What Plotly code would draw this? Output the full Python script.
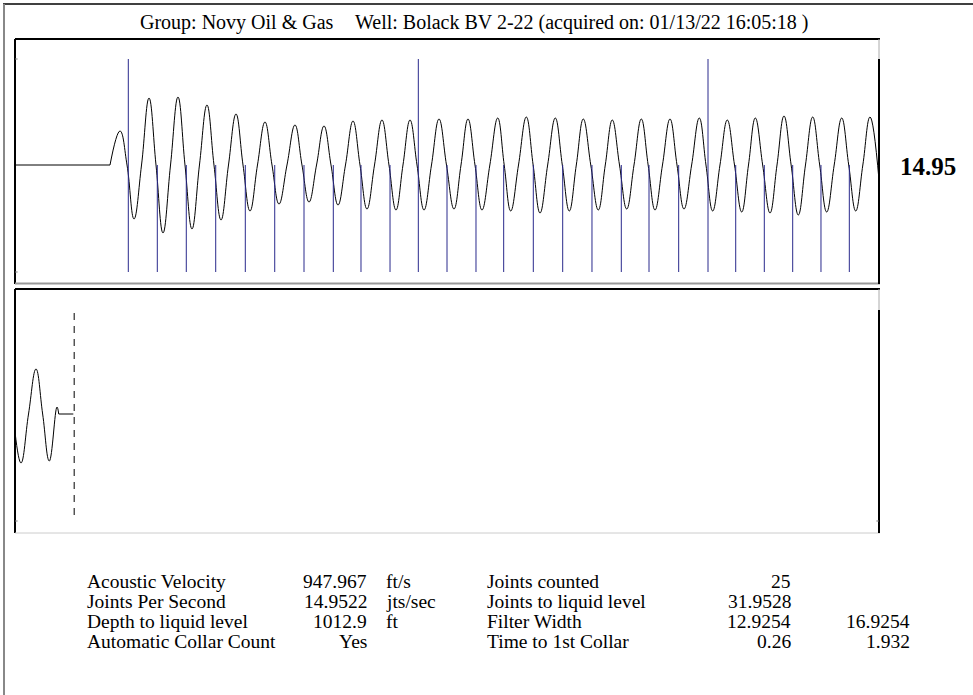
import plotly.graph_objects as go

# ---------------- data ----------------
title_group = "Group: Novy Oil & Gas"
title_well = "Well: Bolack BV 2-22 (acquired on: 01/13/22 16:05:18 )"

# upper panel: quiet lead-in before the shot (time s, amplitude)
lead_t = [0.0, 0.2199]
lead_a = [0, 0]

# upper panel: filtered acoustic signal, extrema and baseline crossings
wave_t = [0.2199, 0.2431, 0.2593, 0.2755, 0.2929, 0.3102, 0.3264, 0.3426, 0.3600, 0.3773,
          0.3935, 0.4097, 0.4270, 0.4444, 0.4606, 0.4769, 0.4942, 0.5116, 0.5278, 0.5440,
          0.5613, 0.5787, 0.5949, 0.6111, 0.6296, 0.6481, 0.6643, 0.6806, 0.6980, 0.7153,
          0.7315, 0.7477, 0.7650, 0.7824, 0.7986, 0.8148, 0.8322, 0.8495, 0.8657, 0.8819,
          0.8981, 0.9144, 0.9306, 0.9468, 0.9641, 0.9815, 0.9988, 1.0162, 1.0324, 1.0486,
          1.0648, 1.0810, 1.0992, 1.1174, 1.1324, 1.1475, 1.1655, 1.1836, 1.1994, 1.2153,
          1.2330, 1.2507, 1.2669, 1.2831, 1.2993, 1.3155, 1.3328, 1.3502, 1.3664, 1.3826,
          1.3993, 1.4160, 1.4329, 1.4498, 1.4656, 1.4815, 1.4988, 1.5162, 1.5324, 1.5486,
          1.5663, 1.5840, 1.5995, 1.6150, 1.6319, 1.6488, 1.6655, 1.6822, 1.6979, 1.7137,
          1.7307, 1.7477, 1.7639, 1.7801, 1.7966, 1.8132, 1.8298, 1.8465, 1.8627, 1.8789,
          1.8963, 1.9137, 1.9299, 1.9461, 1.9626, 1.9792, 2.0000]
wave_a = [0, 34, 0, -54, 0, 67, 0, -68, 0, 68,
          0, -64, 0, 60, 0, -55, 0, 51, 0, -46,
          0, 43, 0, -39, 0, 40, 0, -37, 0, 39,
          0, -40, 0, 44, 0, -44, 0, 45, 0, -45,
          0, 45, 0, -45, 0, 46, 0, -44, 0, 46,
          0, -45, 0, 47, 0, -46, 0, 48, 0, -48,
          0, 47, 0, -46, 0, 46, 0, -45, 0, 45,
          0, -44, 0, 46, 0, -45, 0, 46, 0, -44,
          0, 47, 0, -46, 0, 45, 0, -47, 0, 47,
          0, -48, 0, 49, 0, -50, 0, 48, 0, -47,
          0, 47, 0, -46, 0, 48, -15]

# collar markers (time s); every 10th joint is drawn tall
collar_t = [0.2623, 0.3294, 0.3965, 0.4646, 0.5331, 0.6012, 0.6690, 0.7368, 0.8009, 0.8681,
            0.9336, 1.0000, 1.0671, 1.1312, 1.1998, 1.2678, 1.3356, 1.4035, 1.4676, 1.5363,
            1.6042, 1.6683, 1.7345, 1.8002, 1.8657, 1.9313]
collar_tall = [i % 10 == 0 for i in range(len(collar_t))]
marker_top_tall = 106
marker_top_short = 0
marker_bottom = -107

# lower panel: signal continuation up to liquid level
lower_t = [2.0, 2.0139, 2.0313, 2.0486, 2.0640, 2.0794, 2.0972, 2.1012]
lower_a = [-18, -49, 0, 45, 0, -47, 7, 0]
lower_flat_t = [2.1012, 2.1350]
lower_flat_a = [0, 0]
liquid_level_t = 2.137
liquid_top, liquid_bottom = 101, -107

joints_per_second = 14.9522

labels1 = ["Acoustic Velocity", "Joints Per Second", "Depth to liquid level", "Automatic Collar Count"]
values1 = ["947.967", "14.9522", "1012.9", "Yes"]
units1 = ["ft/s", "jts/sec", "ft", ""]
labels2 = ["Joints counted", "Joints to liquid level", "Filter Width", "Time to 1st Collar"]
values2 = ["25", "31.9528", "12.9254", "0.26"]
values3 = ["", "", "16.9254", "1.932"]

# ---------------- layout helpers ----------------
W, H = 973, 695
def fx(p):
    return p / W
def fy(p):
    return 1 - p / H

FONT = "Liberation Serif, Times New Roman, serif"
BLUE = "#2a2a8c"

fig = go.Figure()

def line_trace(x, y, xa, ya, color="black", shape="linear", dash="solid", smoothing=1.2):
    ln = dict(color=color, width=1, shape=shape, dash=dash)
    if shape == "spline":
        ln["smoothing"] = smoothing
    fig.add_trace(go.Scatter(x=x, y=y, mode="lines", line=ln,
                             xaxis=xa, yaxis=ya, hoverinfo="skip"))

line_trace(lead_t, lead_a, "x", "y")
line_trace(wave_t, wave_a, "x", "y", shape="spline")

mx, my = [], []
for t, tall in zip(collar_t, collar_tall):
    mx += [t, t, None]
    my += [marker_top_tall if tall else marker_top_short, marker_bottom, None]
line_trace(mx, my, "x", "y", color=BLUE)

line_trace(lower_t, lower_a, "x2", "y2", shape="spline")
line_trace(lower_flat_t, lower_flat_a, "x2", "y2")
line_trace([liquid_level_t, liquid_level_t], [liquid_top, liquid_bottom], "x2", "y2",
           dash="7px,6px")

ax = dict(visible=False, showgrid=False, zeroline=False, fixedrange=True)
fig.update_layout(
    width=W, height=H, margin=dict(l=0, r=0, t=0, b=0),
    paper_bgcolor="white", plot_bgcolor="white", showlegend=False,
    xaxis=dict(ax, domain=[fx(15), fx(879)], range=[0, 2.0]),
    yaxis=dict(ax, domain=[fy(284), fy(39)], range=[-119, 126]),
    xaxis2=dict(ax, domain=[fx(15), fx(879)], range=[2.0, 4.0], anchor="y2"),
    yaxis2=dict(ax, domain=[fy(533), fy(289)], range=[-119, 125], anchor="x2"),
)

def pline(x0, y0, x1, y1, color, width):
    fig.add_shape(type="line", xref="paper", yref="paper",
                  x0=fx(x0), y0=fy(y0), x1=fx(x1), y1=fy(y1),
                  line=dict(color=color, width=width))

# outer frame
pline(3, 4, 973, 4, "black", 1.5)
pline(4, 4, 4, 695, "#888888", 2)
# upper panel frame
pline(15, 39, 880, 39, "black", 2)
pline(15, 39, 15, 284, "black", 2)
pline(15, 283.5, 880, 283.5, "#999999", 2)
pline(879, 39, 879, 59, "#aaaaaa", 1)
pline(879, 59, 879, 284, "black", 2)
# lower panel frame
pline(15, 289, 880, 289, "black", 2)
pline(15, 289, 15, 533, "black", 2)
pline(15, 533, 880, 533, "#cccccc", 1)
pline(879, 289, 879, 310, "#aaaaaa", 1)
pline(879, 310, 879, 533, "black", 2)

# small level ticks
for xr, yr, lvl in [("x domain", "y", marker_top_tall), ("x domain", "y", marker_bottom),
                    ("x2 domain", "y2", marker_bottom)]:
    fig.add_shape(type="line", xref=xr, yref=yr, x0=0, x1=0.003, y0=lvl, y1=lvl,
                  line=dict(color="#777777", width=1))
fig.add_shape(type="line", xref="x2 domain", yref="y2", x0=0.997, x1=1, y0=marker_bottom,
              y1=marker_bottom, line=dict(color="#777777", width=1))

def ann(text, x, y, anchor="left", size=19.5, bold=False):
    fig.add_annotation(text=f"<b>{text}</b>" if bold else text, xref="paper", yref="paper",
                       x=fx(x), y=fy(y), xanchor=anchor, yanchor="middle", showarrow=False,
                       font=dict(family=FONT, size=size, color="black"))

ann(title_group, 138, 23, size=20)
ann(title_well, 353, 23, size=20)
ann(f"{joints_per_second:.2f}", 898, 166, size=25, bold=True)

rows_y = [581, 601, 621, 641]
for i, y in enumerate(rows_y):
    ann(labels1[i], 85, y)
    ann(values1[i], 369, y, anchor="right")
    if units1[i]:
        ann(units1[i], 384, y)
    ann(labels2[i], 485, y)
    ann(values2[i], 793, y, anchor="right")
    if values3[i]:
        ann(values3[i], 912, y, anchor="right")

fig.write_html("out.html", config={"displayModeBar": False},
               post_script="document.body.style.margin='0px';")
